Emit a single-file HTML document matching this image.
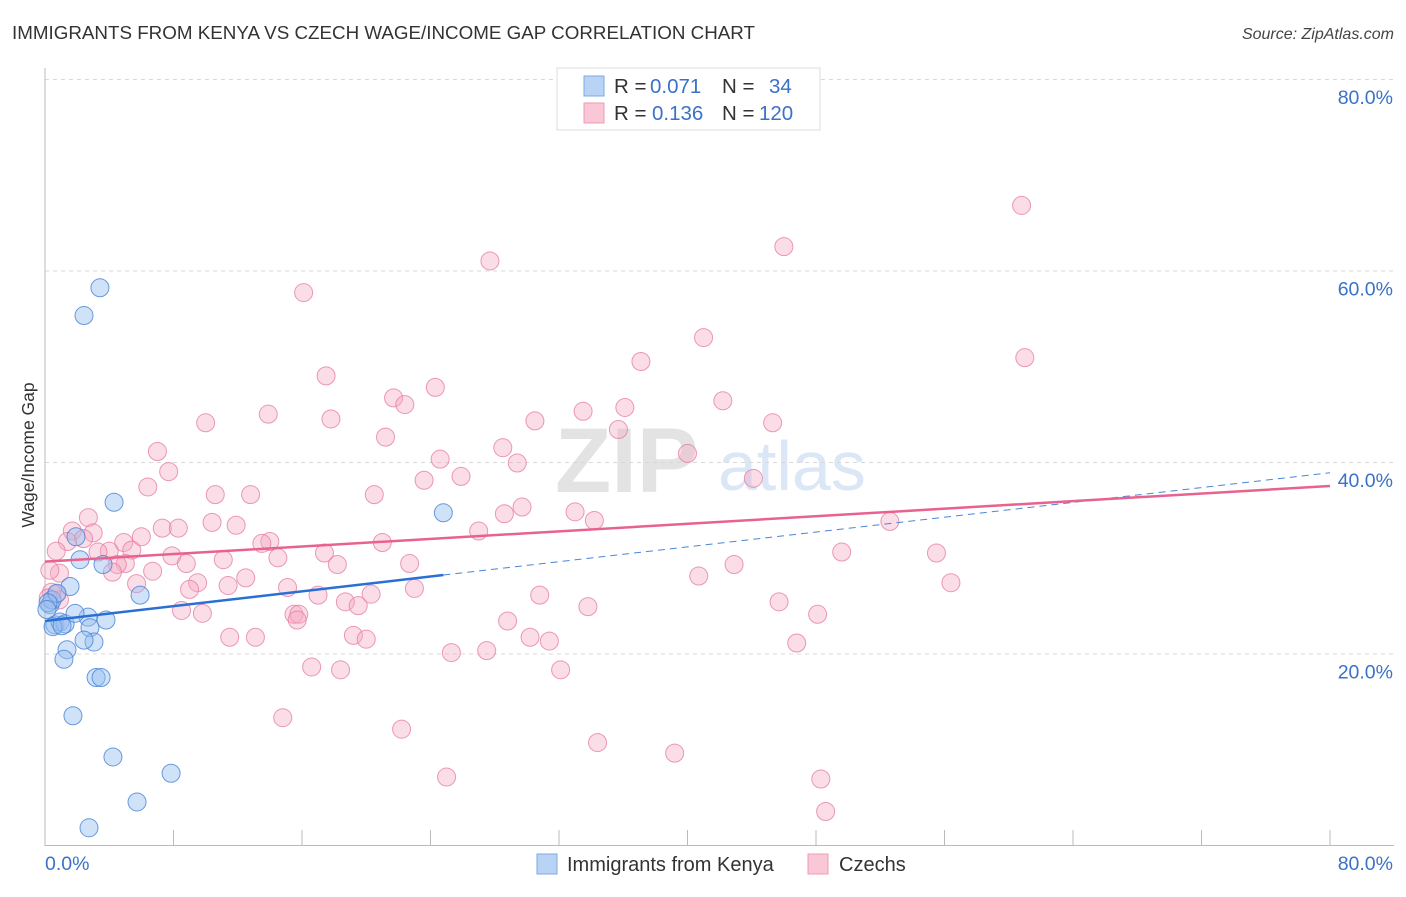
<!DOCTYPE html>
<html><head><meta charset="utf-8"><style>
body{margin:0;background:#fff;font-family:"Liberation Sans",sans-serif;}
svg text{font-family:"Liberation Sans",sans-serif;}
</style></head><body>
<svg id="chart" width="1406" height="892" viewBox="0 0 1406 892" xmlns="http://www.w3.org/2000/svg">
<text x="12" y="39" font-size="18.8" fill="#333">IMMIGRANTS FROM KENYA VS CZECH WAGE/INCOME GAP CORRELATION CHART</text>
<text x="1394" y="39" font-size="16" fill="#444" font-style="italic" text-anchor="end">Source: ZipAtlas.com</text>
<text x="555" y="492" font-size="92" fill="#e3e3e3" font-family="Liberation Serif" font-weight="bold">ZIP</text>
<text x="718" y="490" font-size="70" fill="#dbe7f6">atlas</text>
<g id="grid"></g>
<g id="axes"></g>
<g id="pink-points"></g>
<g id="blue-points"></g>
<g id="lines"></g>
<text transform="translate(34,455) rotate(-90)" font-size="17.5" fill="#333" text-anchor="middle">Wage/Income Gap</text>
<g>
<rect x="557" y="68" width="263" height="62" fill="#fff" stroke="#ddd"/>
<rect x="584" y="76" width="20" height="20" fill="#b9d3f5" stroke="#7fa8e0"/>
<rect x="584" y="103" width="20" height="20" fill="#f9c7d6" stroke="#ee9bb6"/>
<text x="614" y="93" font-size="20.5" fill="#333">R = <tspan x="650" fill="#3a72c8">0.071</tspan><tspan x="722">N = </tspan><tspan x="769" fill="#3a72c8">34</tspan></text>
<text x="614" y="120" font-size="20.5" fill="#333">R = <tspan x="652" fill="#3a72c8">0.136</tspan><tspan x="722">N = </tspan><tspan x="759" fill="#3a72c8">120</tspan></text>
</g>
<g>
<rect x="537" y="854" width="20" height="20" fill="#b9d3f5" stroke="#7fa8e0"/>
<text x="567" y="871" font-size="20" fill="#333">Immigrants from Kenya</text>
<rect x="808" y="854" width="20" height="20" fill="#f9c7d6" stroke="#ee9bb6"/>
<text x="839" y="871" font-size="20" fill="#333">Czechs</text>
</g>
</svg>
<script>
const kenyaX=[3.42,2.43,4.30,24.8,1.93,2.18,3.61,5.92,1.56,0.31,0.44,0.75,0.62,0.93,1.25,2.68,1.87,3.80,2.80,3.05,2.43,1.37,1.18,3.18,3.49,1.74,4.23,7.85,5.73,2.74,0.19,0.12,0.5,1.06];
const kenyaY=[58.3,55.4,35.9,34.8,32.3,29.9,29.4,26.2,27.1,25.2,25.7,26.4,23.1,23.4,23.2,23.9,24.3,23.6,22.8,21.3,21.5,20.5,19.5,17.6,17.6,13.6,9.3,7.6,4.6,1.9,25.4,24.7,22.9,23.0];
const czechX=[60.8,46.0,27.7,16.1,41.0,61.0,37.1,17.5,24.3,21.7,22.4,42.2,36.1,33.5,13.9,17.8,10.0,30.5,45.3,35.7,21.2,7.0,28.5,24.6,40.0,29.4,7.7,25.9,23.6,44.1,6.4,20.5,12.8,10.6,29.7,28.6,33.0,2.7,34.2,52.6,10.4,11.9,7.3,8.3,1.7,3.0,27.0,6.0,2.4,1.4,4.9,14.0,13.5,21.0,0.7,4.0,5.4,3.3,17.4,7.9,14.5,55.5,49.6,11.1,8.8,5.0,4.5,22.7,18.2,42.9,4.2,6.7,0.9,40.7,12.5,9.5,5.7,11.4,15.1,23.0,9.0,17.0,20.3,56.4,30.8,0.7,0.9,18.7,19.5,45.7,33.8,15.5,8.5,9.8,15.8,48.1,15.7,28.8,19.2,11.5,13.1,20.0,30.2,31.4,46.8,25.3,27.5,16.6,18.4,32.1,14.8,22.2,34.4,39.2,25.0,48.3,48.6,0.4,0.2,0.3];
const czechY=[66.9,62.6,61.1,57.8,53.1,51.0,50.6,49.1,47.9,46.8,46.1,46.5,45.8,45.4,45.1,44.6,44.2,44.4,44.2,43.5,42.7,41.2,41.6,40.4,41.0,40.0,39.1,38.6,38.2,38.4,37.5,36.7,36.7,36.7,35.4,34.7,34.9,34.3,34.0,33.9,33.8,33.5,33.2,33.2,32.9,32.7,32.9,32.3,32.1,31.8,31.7,31.8,31.6,31.7,30.8,30.8,30.9,30.7,30.6,30.3,30.1,30.6,30.7,29.9,29.5,29.5,29.4,29.5,29.4,29.4,28.6,28.7,28.5,28.2,28.0,27.5,27.4,27.2,27.0,26.9,26.8,26.2,26.3,27.5,26.2,26.3,25.7,25.5,25.1,25.5,25.0,24.2,24.6,24.3,24.2,24.2,23.6,23.5,22.0,21.8,21.8,21.6,21.8,21.4,21.2,20.2,20.4,18.7,18.4,18.4,13.4,12.2,10.8,9.7,7.2,7.0,3.6,26.5,25.9,28.8];
const kenyaTrend=[23.5,28.3,24.8]; // intercept, value at solid end, solid end x
const czechTrend=[29.7,37.6];
const yTicks=[20,40,60,80];
const yTickLabels=["20.0%","40.0%","60.0%","80.0%"];
const xTicks=[0,8,16,24,32,40,48,56,64,72,80];
const NS="http://www.w3.org/2000/svg";
const X0=45,X1=1330,Y0=846,YTOP=80;
function sx(v){return X0+(X1-X0)*v/80;}
function sy(v){return Y0-(Y0-YTOP)*v/80;}
function mk(tag,attrs,parent){const e=document.createElementNS(NS,tag);for(const k in attrs)e.setAttribute(k,attrs[k]);parent.appendChild(e);return e;}
const grid=document.getElementById('grid'),axes=document.getElementById('axes');
yTicks.forEach((t,i)=>{
 const l=mk('line',{x1:X0,x2:1394,y1:sy(t)-0.5,y2:sy(t)-0.5,stroke:'#d8d8d8','stroke-dasharray':'4,4'},grid);
 
 
 const tx=mk('text',{x:1393,y:sy(t)+24,'font-size':19.5,fill:'#3a72c8','text-anchor':'end'},axes);
 tx.textContent=yTickLabels[i];
 
 
});
const ax=mk('line',{x1:X0,x2:X0,y1:68,y2:Y0,stroke:'#bbb'},axes);


const bx=mk('line',{x1:X0,x2:1394,y1:Y0-0.5,y2:Y0-0.5,stroke:'#bbb'},axes);


xTicks.forEach(t=>{
 const x=sx(t);const l=mk('line',{x1:x,x2:x,y1:830,y2:Y0,stroke:'#bbb'},axes);
 
 
});
[[0,'0.0%','start',45],[80,'80.0%','end',1393]].forEach(a=>{
 const tx=mk('text',{x:a[3],y:870,'font-size':19.5,fill:'#3a72c8','text-anchor':a[2]},axes);
 tx.textContent=a[1];
 
 
});
const pg=document.getElementById('pink-points');
czechX.forEach((v,i)=>{
 const c=mk('circle',{cx:sx(v),cy:sy(czechY[i]),r:9,fill:'rgba(245,170,195,0.4)',stroke:'rgba(230,120,160,0.75)','stroke-width':1},pg);
 
 
});
const bg=document.getElementById('blue-points');
kenyaX.forEach((v,i)=>{
 const c=mk('circle',{cx:sx(v),cy:sy(kenyaY[i]),r:9,fill:'rgba(150,190,240,0.45)',stroke:'rgba(70,130,215,0.8)','stroke-width':1},bg);
 
 
});
const lg=document.getElementById('lines');
const slope=(kenyaTrend[1]-kenyaTrend[0])/kenyaTrend[2];
const d=mk('line',{x1:sx(kenyaTrend[2]),y1:sy(kenyaTrend[1]),x2:sx(80),y2:sy(kenyaTrend[0]+slope*80),stroke:'#4a86d8','stroke-width':1,'stroke-dasharray':'7,5'},lg);


const p=mk('line',{x1:sx(0),y1:sy(czechTrend[0]),x2:sx(80),y2:sy(czechTrend[1]),stroke:'#e8628f','stroke-width':2.5},lg);


const b=mk('line',{x1:sx(0),y1:sy(kenyaTrend[0]),x2:sx(kenyaTrend[2]),y2:sy(kenyaTrend[1]),stroke:'#2a6fd6','stroke-width':2.5},lg);


</script>
</body></html>
